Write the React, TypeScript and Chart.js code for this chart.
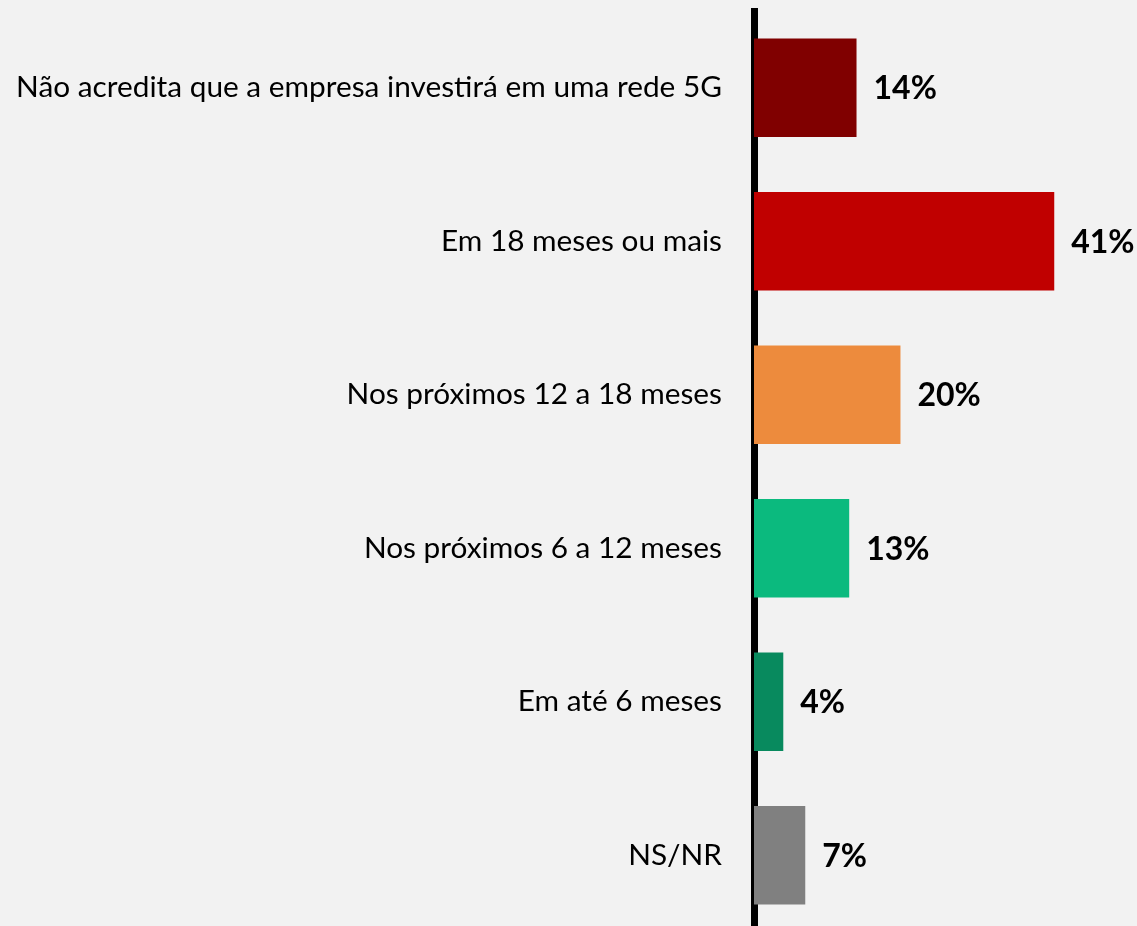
import React, { useEffect, useRef } from "react";
import { Chart, registerables } from "chart.js";

Chart.register(...registerables);

const categories: string[] = [
  "Não acredita que a empresa investirá em uma rede 5G",
  "Em 18 meses ou mais",
  "Nos próximos 12 a 18 meses",
  "Nos próximos 6 a 12 meses",
  "Em até 6 meses",
  "NS/NR",
];
const values: number[] = [14, 41, 20, 13, 4, 7];
const valueLabels: string[] = ["14%", "41%", "20%", "13%", "4%", "7%"];
const barColors: string[] = ["#800000", "#C00000", "#ED8B3D", "#0BBA7E", "#088A5E", "#808080"];

const W = 1137;
const H = 926;
const CANVAS_H = 932;

const valueLabelPlugin = {
  id: "valueLabels",
  afterDatasetsDraw(chart: any) {
    const ctx = chart.ctx;
    const meta = chart.getDatasetMeta(0);
    ctx.save();
    ctx.font = "bold 32px Lato";
    ctx.fillStyle = "#000000";
    ctx.textAlign = "left";
    ctx.textBaseline = "middle";
    meta.data.forEach((el: any, i: number) => {
      ctx.fillText(valueLabels[i], el.x + 17, el.y + 1);
    });
    ctx.restore();
  },
};

export default function App() {
  const ref = useRef<HTMLCanvasElement | null>(null);
  useEffect(() => {
    document.body.style.margin = "0";
    const canvas = ref.current;
    if (!canvas) return;
    const chart = new Chart(canvas, {
      type: "bar",
      data: {
        labels: categories,
        datasets: [
          {
            data: values,
            backgroundColor: barColors,
            borderWidth: 0,
            barPercentage: 0.641,
            categoryPercentage: 1,
          },
        ],
      },
      options: {
        indexAxis: "y",
        animation: false,
        responsive: false,
        layout: { padding: { top: 11, bottom: 0, left: 0, right: 0 } },
        plugins: { legend: { display: false }, tooltip: { enabled: false } },
        scales: {
          x: { display: false, min: 0, max: 52.3 },
          y: {
            z: 1,
            grid: { display: false, drawTicks: false },
            border: { display: true, color: "#000000", width: 7 },
            ticks: {
              color: "#000000",
              font: { family: "Lato", size: 29.8 },
              padding: 32,
            },
            afterFit(scale: any) {
              scale.width = 754;
              scale.paddingTop = 0;
              scale.paddingBottom = 0;
            },
          },
        },
      },
      plugins: [valueLabelPlugin],
    });
    return () => chart.destroy();
  }, []);
  return (
    <div style={{ position: "absolute", left: 0, top: 0, width: W, height: H, background: "#F2F2F2", overflow: "hidden" }}>
      <canvas ref={ref} width={W} height={CANVAS_H} style={{ display: "block", width: W, height: CANVAS_H }} />
    </div>
  );
}
